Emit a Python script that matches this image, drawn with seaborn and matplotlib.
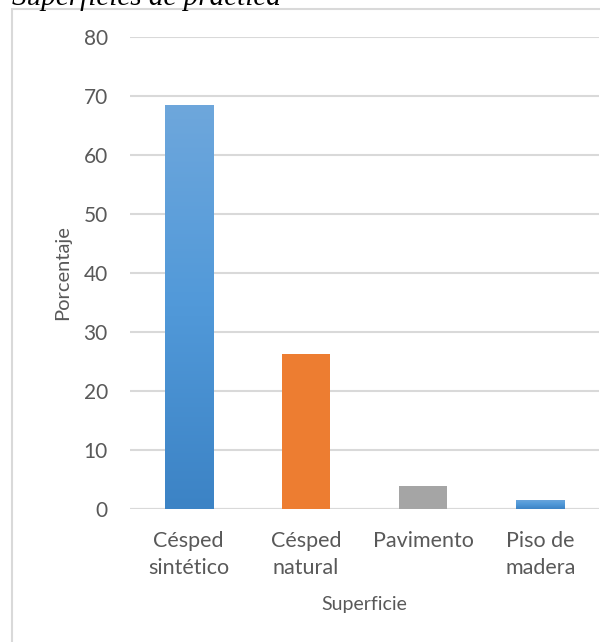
import numpy as np
import pandas as pd
import matplotlib
matplotlib.use("Agg")
import matplotlib.pyplot as plt
import matplotlib.patches as mpatches
from matplotlib.colors import LinearSegmentedColormap
import seaborn as sns

categories = ["Césped\nsintético", "Césped\nnatural", "Pavimento", "Piso de\nmadera"]
values = [68.5, 26.3, 3.9, 1.6]
yticks = [0, 10, 20, 30, 40, 50, 60, 70, 80]
colors = ["#5B9BD5", "#ED7D31", "#A5A5A5", "#5B9BD5"]

sns.set_theme(style="white")
plt.rcParams['font.family'] = ['Lato', 'DejaVu Sans']

W, H = 600, 642
fig = plt.figure(figsize=(W / 100, H / 100), dpi=100)
ax = fig.add_axes([130 / W, (H - 509) / H, (599 - 130) / W, (509 - 37) / H])

df = pd.DataFrame({"cat": categories, "val": values})
sns.barplot(data=df, x="cat", y="val", hue="cat", palette=colors, legend=False,
            width=0.41, ax=ax, saturation=1, edgecolor="none")

# gradient on blue bars
grad = np.linspace(0, 1, 256).reshape(-1, 1)
cmap = LinearSegmentedColormap.from_list("g", ["#3C83C5", "#5199D9", "#6EA7DC"])
for i, p in enumerate(ax.patches):
    if i in (0, 3):
        x0, y0 = p.get_x(), p.get_y()
        w, h = p.get_width(), p.get_height()
        im = ax.imshow(grad, extent=[x0, x0 + w, y0, y0 + h], origin="lower",
                       cmap=cmap, aspect="auto", zorder=p.get_zorder() + 0.1)
        im.set_clip_path(p)

ax.set_xlim(-0.5, 3.5)
ax.set_ylim(0, 80)
ax.set_yticks(yticks)
ax.set_yticklabels([str(t) for t in yticks])
ax.grid(axis="y", color="#D9D9D9", linewidth=1.5)
ax.set_axisbelow(True)
for s in ax.spines.values():
    s.set_visible(False)
ax.axhline(0, color="#D9D9D9", linewidth=1.5, zorder=0.5)
ax.tick_params(axis="y", length=0, pad=16, labelsize=15, labelcolor="#595959")
ax.tick_params(axis="x", length=0, pad=16, labelsize=15.5, labelcolor="#595959")
for lab in ax.get_xticklabels():
    lab.set_linespacing(1.45)
ax.set_xlabel("Superficie", fontsize=14, color="#595959", labelpad=13)
ax.set_ylabel("Porcentaje", fontsize=14.5, color="#595959", labelpad=9)

# outer chart frame
fig.patches.append(mpatches.Rectangle((12 / W, -0.05), 1.0, (H - 9) / H + 0.05,
                                      transform=fig.transFigure, fill=False,
                                      edgecolor="#D9D9D9", linewidth=1.5))

fig.text(12 / W, (H - 5) / H, "Superficies de práctica", family="Liberation Serif",
         style="italic", fontsize=21, color="black", ha="left", va="baseline")

fig.savefig("out.png", dpi=100)
